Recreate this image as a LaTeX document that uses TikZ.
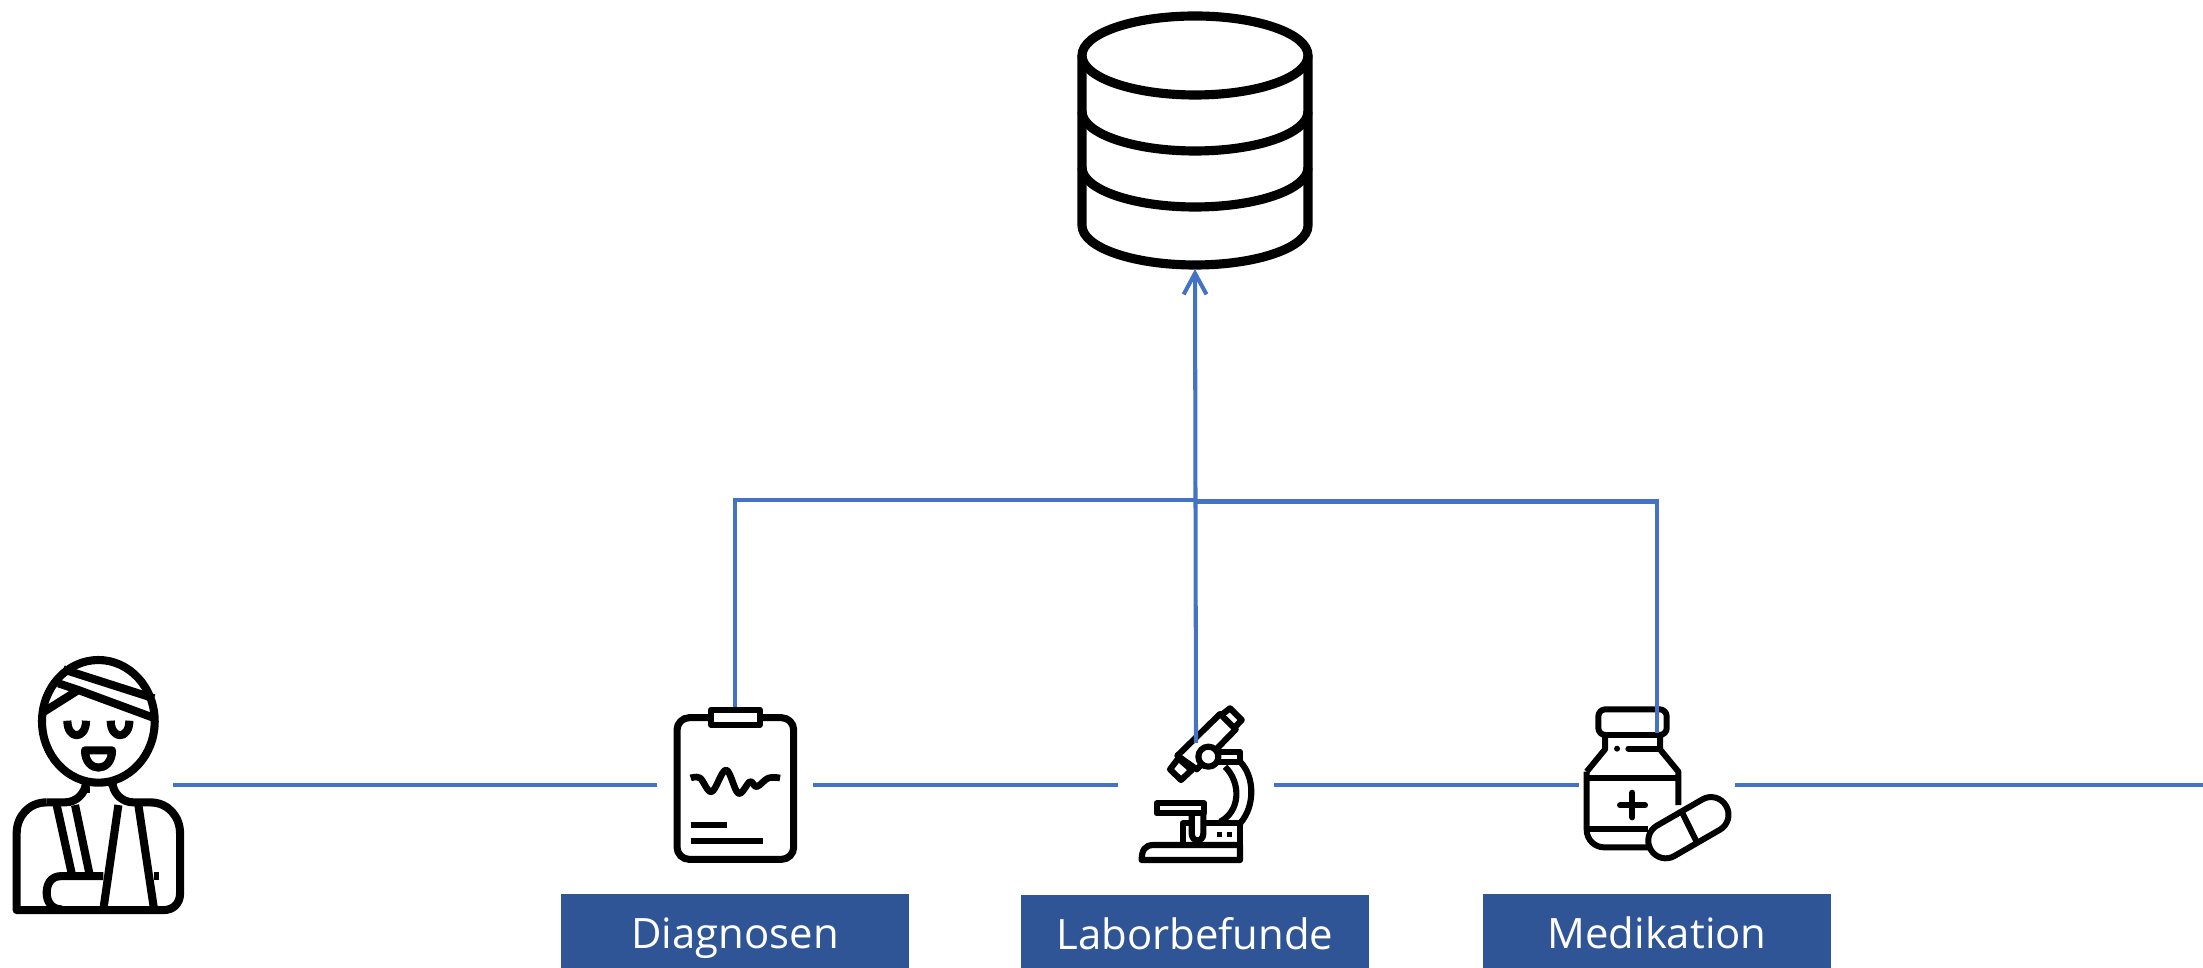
\documentclass[tikz,border=0pt]{standalone}
\usepackage{fontspec}
\setmainfont{Open Sans}
\usetikzlibrary{arrows.meta}
\definecolor{flowblue}{HTML}{4472C4}
\definecolor{boxblue}{HTML}{2F5597}
\tikzstyle{flow}    = [flowblue,line width=1.15pt]
\tikzstyle{arrow}   = [flow,-{Straight Barb[length=6pt,width=6.5pt]}]
\tikzstyle{slot}    = [inner sep=0pt,outer sep=0pt,minimum width=1.56cm]
\tikzstyle{caption} = [fill=boxblue,text=white,inner sep=0pt,outer sep=0pt,minimum width=3.48cm,minimum height=0.74cm,text height=0.4cm,text depth=0.06cm,font=\fontsize{11.9pt}{14pt}\selectfont]
\tikzstyle{zoomed}  = [x=0.03333mm,y=-0.03333mm,line join=round]

\begin{document}
\begin{tikzpicture}[x=0.01cm,y=-0.01cm]
        \useasboundingbox (0,0) rectangle (2203,968);

        % database
        \draw[line width=2.6pt] (1195,55.5) ellipse [x radius=113,y radius=39.5];
        \draw[line width=2.6pt] (1082,55.5) -- (1082,225.5) arc [start angle=180,end angle=0,x radius=113,y radius=39.5] -- (1308,55.5);
        \draw[line width=2.6pt] (1082,111.5) arc [start angle=180,end angle=0,x radius=113,y radius=39.5];
        \draw[line width=2.6pt] (1082,167.5) arc [start angle=180,end angle=0,x radius=113,y radius=39.5];

        % patient
        \begin{scope}[shift={(0,630)},zoomed,line width=2.3pt]
            \draw (295,274) ellipse [x radius=169,y radius=184];
            \draw (190,118) -- (462,205);
            \draw (132,245) -- (235,180) -- (465,265);
            \draw (175,160) -- (235,180);
            \draw (202,272) .. controls (202,330) and (258,330) .. (258,272);
            \draw (332,272) .. controls (332,330) and (388,330) .. (388,272);
            \draw (255,361) -- (336,361) .. controls (336,430) and (255,430) .. (255,361) -- cycle;
            \draw[rounded corners=6pt] (258,470) -- (258,517) -- (140,517);
            \draw (258,470) -- (258,490);
            \draw[rounded corners=6pt] (337,470) -- (337,517) -- (450,517);
            \draw (140,517) .. controls (85,517) and (50,560) .. (50,610) -- (50,840) -- (490,840) .. controls (520,840) and (540,820) .. (540,790) -- (540,610) .. controls (540,560) and (505,517) .. (450,517);
            \draw (170,525) -- (215,730);
            \draw (225,525) -- (268,730);
            \draw (355,525) -- (310,838);
            \draw (415,525) -- (462,838);
            \draw (462,738) -- (478,738);
            \draw (310,738) -- (185,738) .. controls (150,738) and (140,765) .. (140,788) .. controls (140,815) and (155,838) .. (185,838);
        \end{scope}

        % diagnosen
        \begin{scope}[shift={(640,690)},zoomed,line width=2pt]
            \draw[rounded corners=3.5pt] (111,83) rectangle (461,508);
            \draw[fill=white,line width=1.8pt] (213,59) rectangle (359,104);
            \draw[line width=1.9pt] plot[smooth,tension=0.6] coordinates {(152,264) (180,264) (215,305) (258,240) (295,310) (330,275) (350,290) (385,264) (420,264)};
            \draw[line width=1.8pt] (152,405) -- (260,405);
            \draw[line width=1.8pt] (152,452) -- (368,452);
        \end{scope}

        % labor
        \begin{scope}[shift={(1100,690)},zoomed,line width=1.75pt]
            \draw (125,510) -- (420,510) -- (420,465) -- (160,465) .. controls (135,465) and (125,480) .. (125,510) -- cycle;
            \draw (420,465) -- (420,400) -- (310,400);
            \draw (275,400) -- (248,400) -- (248,465);
            \draw (170,340) rectangle (312,370);
            \draw (275,370) -- (275,430) .. controls (275,458) and (310,458) .. (310,430) -- (310,370);
            \fill (352,425) rectangle (367,440);
            \fill (382,425) rectangle (397,440);
            \draw (420,400) .. controls (465,350) and (465,260) .. (420,215);
            \draw (360,395) .. controls (420,365) and (425,280) .. (375,230);
            \draw (355,185) rectangle (420,215);
            \draw (210,238) -- (235,205) -- (275,240) -- (243,270) -- cycle;
            \draw (232,197) -- (360,72) -- (407,118) -- (290,238) -- cycle;
            \draw (368,72) -- (390,55) -- (425,90) -- (403,113);
            \draw[fill=white] (325,200) circle [radius=30];
        \end{scope}

        % medikation
        \begin{scope}[shift={(1560,690)},zoomed,line width=1.7pt]
            \draw[rounded corners=2pt] (115,58) rectangle (320,135);
            \draw (135,135) -- (135,178) -- (80,245);
            \draw[rounded corners=5pt] (80,245) -- (80,472) -- (265,472);
            \draw (300,135) -- (300,178) -- (355,245) -- (355,345);
            \fill (171,176) circle [radius=9];
            \draw[line cap=round] (205,176) -- (295,176);
            \draw (80,265) -- (355,265);
            \draw (80,418) -- (265,418);
            \draw[line cap=round] (180,346) -- (255,346);
            \draw[line cap=round] (217,308) -- (217,382);
            \node[draw,fill=white,rotate=30,inner sep=0pt,minimum width=0.87cm,minimum height=0.35cm,rounded corners=4.9pt] (capsule) at (385,413) {};
            \draw (365,365) -- (412,460);
        \end{scope}

        \node[slot,minimum height=1.56cm] (patient) at (95,785) {};
        \node[slot,minimum height=1.56cm] (diagnosen) at (735,785) {};
        \node[slot,minimum height=0.84cm] (labor) at (1196,785) {};
        \node[slot,minimum height=1.04cm] (medikation) at (1657,785) {};
        \node[slot,minimum height=2.6cm] (db) at (1195,139) {};
        \coordinate (jointleft) at (1195,500);
        \coordinate (jointright) at (1195,501.5);
        \coordinate (end) at (2203,785);

        \draw[flow] (patient) -- (diagnosen);
        \draw[flow] (diagnosen) -- (labor);
        \draw[flow] (labor) -- (medikation);
        \draw[flow] (medikation) -- (end);
        \draw[flow] (diagnosen.north) |- (jointleft);
        \draw[flow] (medikation.north) |- (jointright);
        \draw[arrow] (labor.north) -- (db.south);

        \node[caption] (diagnosenbox) at (735,931) {Diagnosen};
        \node[caption] (laborbox) at (1195,932) {Laborbefunde};
        \node[caption] (medikationbox) at (1657,931) {Medikation};
    \end{tikzpicture}
\end{document}
